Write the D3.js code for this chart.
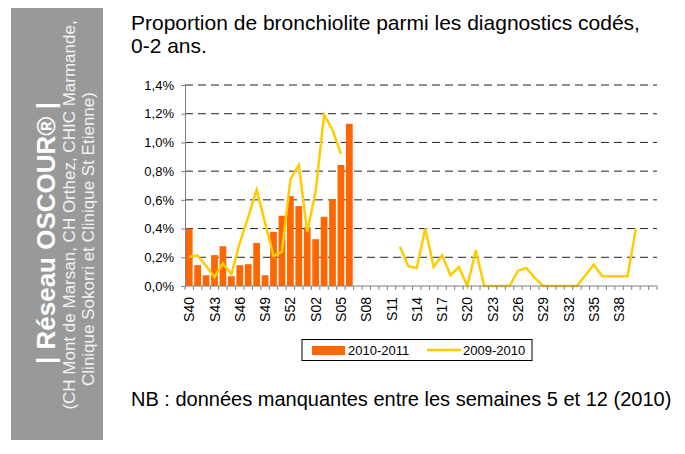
<!DOCTYPE html>
<html>
<head>
<meta charset="utf-8">
<script src="https://cdn.jsdelivr.net/npm/d3@7"></script>
<style>
  body { margin: 0; background: #fff; }
  svg text { font-family: "Liberation Sans", Arial, sans-serif; }
</style>
</head>
<body>
<div id="my_dataviz"></div>
<script>
// week labels (S53 exists in 2009), last 3 categories are empty
var weeks = ["S40","S41","S42","S43","S44","S45","S46","S47","S48","S49","S50","S51","S52","S53",
  "S01","S02","S03","S04","S05","S06","S07","S08","S09","S10","S11","S12","S13","S14","S15","S16",
  "S17","S18","S19","S20","S21","S22","S23","S24","S25","S26","S27","S28","S29","S30","S31","S32",
  "S33","S34","S35","S36","S37","S38","S39","","",""]

// 2010-2011 season (bars), in %
var bars2010 = [0.40,0.145,0.075,0.215,0.277,0.068,0.145,0.152,0.30,0.075,
  0.377,0.489,0.627,0.557,0.41,0.326,0.482,0.606,0.843,1.13]

// 2009-2010 season (line), in % - null = missing weeks 5 to 12
var line2009 = [0.203,0.212,0.14,0.063,0.157,0.082,0.30,0.48,0.669,0.44,
  0.21,0.238,0.743,0.843,0.377,0.657,1.193,1.088,0.92,
  null,null,null,null,null,null,
  0.273,0.138,0.126,0.40,0.133,0.214,0.075,0.133,0,0.25,
  0,0,0,0,0.105,0.126,0.056,0,0,0,
  0,0,0.075,0.15,0.068,0.068,0.068,0.068,0.40]

var yTicks = [0,0.2,0.4,0.6,0.8,1.0,1.2,1.4]

var margin = {top: 85, right: 28, bottom: 168, left: 185},
width = 685 - margin.left - margin.right,
height = 454 - margin.top - margin.bottom;

var root = d3.select("#my_dataviz")
  .append("svg")
    .attr("width", 685)
    .attr("height", 454)

// grey side panel
root.append("rect")
  .attr("x", 11).attr("y", 8)
  .attr("width", 92).attr("height", 432)
  .attr("fill", "#999999")

var side = [
  {t: "| Réseau OSCOUR® |", x: 55, y: 233, size: 26, bold: true},
  {t: "(CH Mont de Marsan, CH Orthez, CHIC Marmande,", x: 74.5, y: 215, size: 17, bold: false},
  {t: "Clinique Sokorri et Clinique St Etienne)", x: 93.5, y: 239, size: 17, bold: false}
]
side.forEach(function(s) {
  root.append("text")
    .attr("transform", "translate(" + s.x + "," + s.y + ") rotate(-90)")
    .attr("text-anchor", "middle")
    .attr("fill", s.bold ? "#ffffff" : "#f2f2f2")
    .style("font-size", s.size + "px")
    .style("font-weight", s.bold ? "bold" : "normal")
    .text(s.t)
})

// title
root.append("text")
  .attr("x", 131).attr("y", 30)
  .style("font-size", "21px")
  .attr("fill", "#000")
  .text("Proportion de bronchiolite parmi les diagnostics codés,")
root.append("text")
  .attr("x", 131).attr("y", 53)
  .style("font-size", "21px")
  .attr("fill", "#000")
  .text("0-2 ans.")

// note
root.append("text")
  .attr("x", 131).attr("y", 406)
  .style("font-size", "20px")
  .attr("fill", "#000")
  .text("NB : données manquantes entre les semaines 5 et 12 (2010)")

var svg = root.append("g")
  .attr("transform", "translate(" + margin.left + "," + margin.top + ")")

var idx = d3.range(weeks.length)

var x = d3.scaleBand()
  .domain(idx)
  .range([0, width])
  .paddingInner(0.2)
  .paddingOuter(0.1)

var y = d3.scaleLinear()
  .domain([0, 1.4])
  .range([height, 0])

// dashed gridlines
svg.append("g")
  .selectAll("line")
  .data(yTicks.slice(1))
  .enter().append("line")
    .attr("x1", 0).attr("x2", width)
    .attr("y1", function(d) { return y(d) })
    .attr("y2", function(d) { return y(d) })
    .attr("stroke", "#222")
    .attr("stroke-width", 1)
    .attr("stroke-dasharray", "8,5")

// bars
svg.append("g")
  .selectAll("rect")
  .data(bars2010)
  .enter().append("rect")
    .attr("x", function(d, i) { return x(i) })
    .attr("y", function(d) { return y(d) })
    .attr("width", x.bandwidth())
    .attr("height", function(d) { return height - y(d) })
    .attr("fill", "#FF6600")

// line
var line = d3.line()
  .defined(function(d) { return d != null })
  .x(function(d, i) { return x(i) + x.bandwidth() / 2 })
  .y(function(d) { return y(d) })

svg.append("path")
  .datum(line2009)
  .attr("d", line)
  .attr("fill", "none")
  .attr("stroke", "#FFCC00")
  .attr("stroke-width", 2.5)
  .attr("stroke-linejoin", "miter")

// y axis
var yAxis = svg.append("g")
  .call(d3.axisLeft(y).tickValues(yTicks).tickSize(4).tickSizeOuter(0)
    .tickFormat(function(d) { return d.toFixed(1).replace(".", ",") + "%" }))
yAxis.select(".domain").attr("stroke", "#808080")
yAxis.selectAll(".tick line").attr("stroke", "#808080")
yAxis.selectAll("text")
  .attr("x", -11)
  .style("font-size", "13px")
  .attr("fill", "#000")

// x axis - ticks between categories
var xAxis = svg.append("g")
  .attr("transform", "translate(0," + height + ")")
xAxis.append("line")
  .attr("x1", 0).attr("x2", width)
  .attr("stroke", "#808080")
xAxis.selectAll(".sep")
  .data(d3.range(weeks.length + 1))
  .enter().append("line")
    .attr("class", "sep")
    .attr("x1", function(i) { return i * x.step() })
    .attr("x2", function(i) { return i * x.step() })
    .attr("y1", 0).attr("y2", 4)
    .attr("stroke", "#808080")

xAxis.selectAll(".lbl")
  .data(idx.filter(function(i) { return i % 3 == 0 && weeks[i] != "" }))
  .enter().append("text")
    .attr("class", "lbl")
    .attr("transform", function(i) {
      return "translate(" + (x(i) + x.bandwidth() / 2 + 5) + ",11) rotate(-90)"
    })
    .attr("text-anchor", "end")
    .style("font-size", "14px")
    .attr("fill", "#000")
    .text(function(i) { return weeks[i] })

// legend
var leg = root.append("g")
leg.append("rect")
  .attr("x", 302).attr("y", 339.5)
  .attr("width", 230).attr("height", 21)
  .attr("fill", "#fff")
  .attr("stroke", "#000")
leg.append("rect")
  .attr("x", 312).attr("y", 346)
  .attr("width", 33).attr("height", 9)
  .attr("fill", "#FF6600")
leg.append("text")
  .attr("x", 348).attr("y", 355)
  .style("font-size", "13px")
  .text("2010-2011")
leg.append("line")
  .attr("x1", 427).attr("x2", 461)
  .attr("y1", 350).attr("y2", 350)
  .attr("stroke", "#FFCC00")
  .attr("stroke-width", 2.5)
leg.append("text")
  .attr("x", 463).attr("y", 355)
  .style("font-size", "13px")
  .text("2009-2010")
</script>
</body>
</html>
